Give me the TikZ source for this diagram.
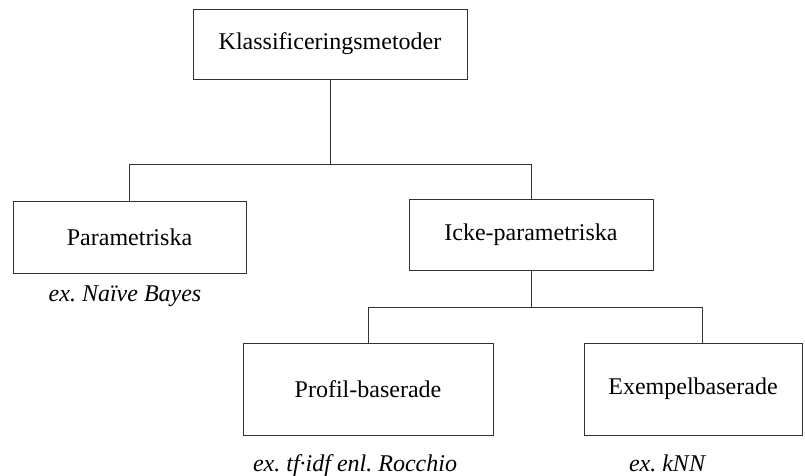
\documentclass[tikz,border=0pt]{standalone}
\usepackage{fontspec}
\setmainfont{Liberation Serif}
\usetikzlibrary{positioning,calc}

\begin{document}
\begin{tikzpicture}[x=1pt,y=-1pt,
    box/.style={draw=black!80,line width=0.8pt,rectangle,inner sep=0pt,font=\fontsize{24}{28}\selectfont},
    example/.style={anchor=base,inner sep=0pt,font=\fontsize{24}{28}\selectfont\itshape},
    link/.style={draw=black!80,line width=0.8pt}]
    \useasboundingbox (0,0) rectangle (805,475);

    % Root
    \node[box,minimum width=274,minimum height=70] (root) at (330,44) {Klassificeringsmetoder};
    \coordinate (split1) at (330,164);

    % First level
    \node[box,minimum width=233,minimum height=72] (param) at (129.5,237) {Parametriska};
    \node[box,minimum width=244,minimum height=71] (nonparam) at (531,234.5) {Icke-parametriska};
    \node[example] (exparam) at (125,301) {ex.\ Naïve Bayes};

    \draw[link] (root.south) -- (split1);
    \draw[link] (split1) -| (param.north);
    \draw[link] (split1) -| (nonparam.north);

    % Second level
    \coordinate (split2) at (531,307);
    \node[box,minimum width=250,minimum height=92] (profile) at (368,389) {Profil-baserade};
    \node[box,minimum width=218,minimum height=92] (instance) at (693,389) {Exempelbaserade};
    \node[example] (exprofile) at (355,471) {ex.\ tf·idf enl.\ Rocchio};
    \node[example] (exinstance) at (667,471) {ex.\ kNN};

    \draw[link] (nonparam.south) -- (split2);
    \draw[link] (split2) -| (profile.north);
    \draw[link] (split2) -| ([xshift=9]instance.north);
\end{tikzpicture}
\end{document}
